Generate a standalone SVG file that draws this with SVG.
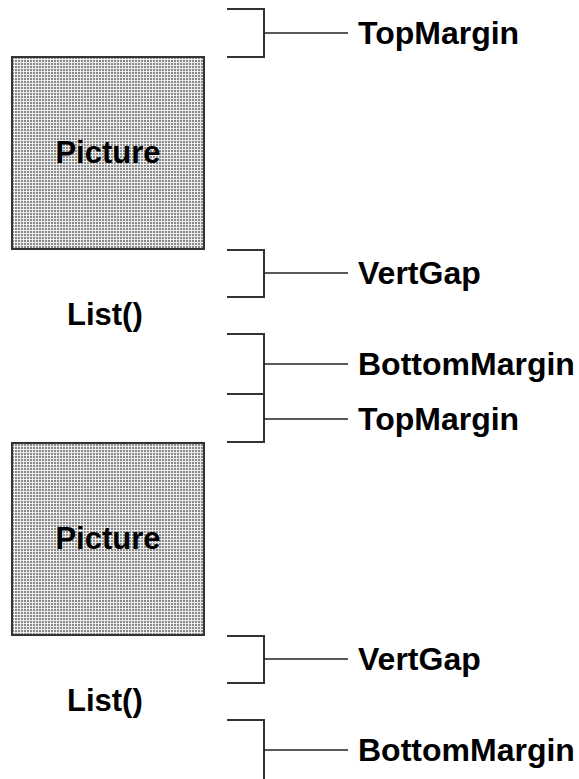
<svg xmlns="http://www.w3.org/2000/svg" width="579" height="779" viewBox="0 0 579 779">
<defs>
<pattern id="dots" width="3" height="3" patternUnits="userSpaceOnUse">
<rect width="3" height="3" fill="#ececec"/>
<rect x="0" y="0" width="2" height="2" fill="#8a8a8a"/>
</pattern>
</defs>
<style>
.box{fill:url(#dots);stroke:#333;stroke-width:2}
.br{fill:none;stroke:#333;stroke-width:2}
.stub{stroke:#222;stroke-width:1.5}
.lbl{font-family:"Liberation Sans",Arial,sans-serif;font-weight:bold;font-size:32px;fill:#000}
.in{font-family:"Liberation Sans",Arial,sans-serif;font-weight:bold;font-size:31px;fill:#000}
</style>
<rect width="579" height="779" fill="#fff"/>
<g id="picture1">
<rect class="box" x="12" y="57" width="192" height="192"/>
<text class="in" x="108" y="163" text-anchor="middle">Picture</text>
</g>
<g id="list1"><text class="in" x="67" y="325">List()</text></g>
<g id="picture2">
<rect class="box" x="12" y="443" width="192" height="192"/>
<text class="in" x="108" y="549" text-anchor="middle">Picture</text>
</g>
<g id="list2"><text class="in" x="67" y="711">List()</text></g>
<g id="connectors">
<path class="br" d="M227 9 H264 V57 H227"/>
<line class="stub" x1="264" y1="33" x2="348" y2="33"/>
<path class="br" d="M227 250 H264 V297 H227"/>
<line class="stub" x1="264" y1="273" x2="348" y2="273"/>
<path class="br" d="M227 334 H264 V442 H227"/>
<line class="br" x1="227" y1="394" x2="264" y2="394"/>
<line class="stub" x1="264" y1="364" x2="348" y2="364"/>
<line class="stub" x1="264" y1="419" x2="348" y2="419"/>
<path class="br" d="M227 636 H264 V683 H227"/>
<line class="stub" x1="264" y1="659" x2="348" y2="659"/>
<path class="br" d="M227 720 H264 V779"/>
<line class="stub" x1="264" y1="750" x2="348" y2="750"/>
</g>
<g id="labels">
<text class="lbl" x="358" y="44">TopMargin</text>
<text class="lbl" x="358" y="284">VertGap</text>
<text class="lbl" x="358" y="375">BottomMargin</text>
<text class="lbl" x="358" y="430">TopMargin</text>
<text class="lbl" x="358" y="670">VertGap</text>
<text class="lbl" x="358" y="761">BottomMargin</text>
</g>
</svg>
